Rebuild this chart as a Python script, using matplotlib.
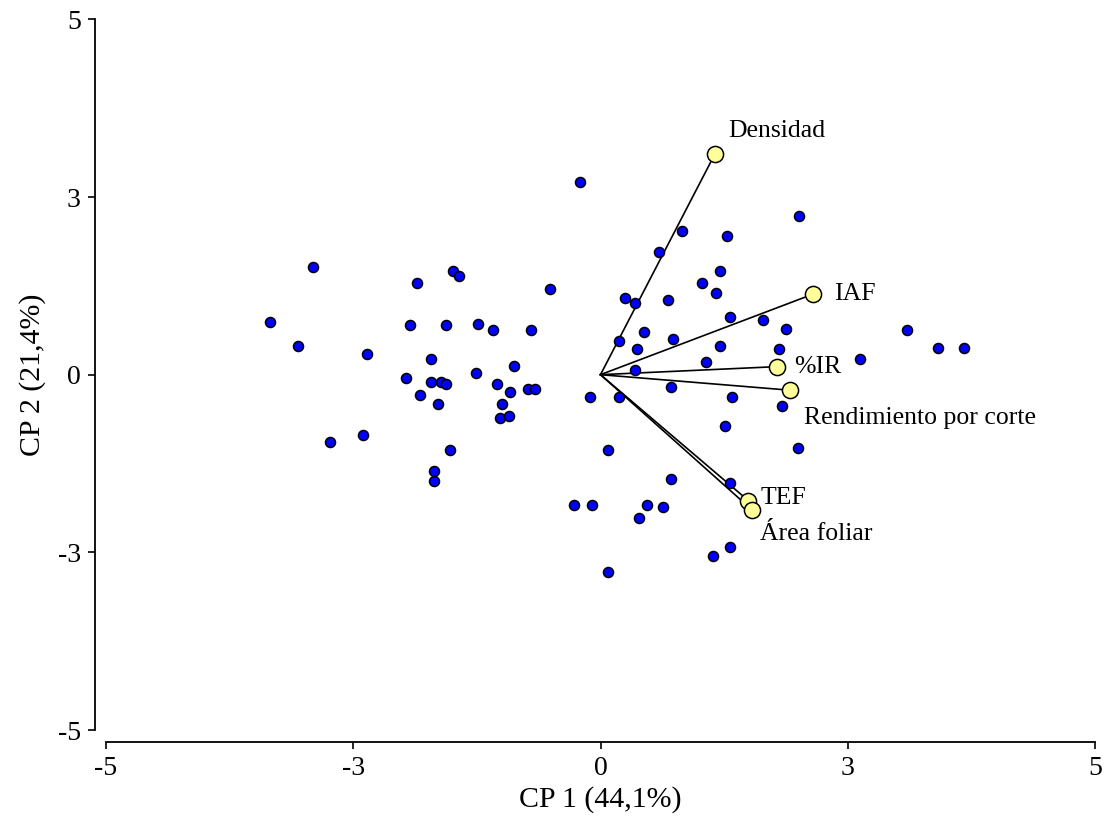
import matplotlib
matplotlib.use("Agg")
import matplotlib.pyplot as plt

# Observation scores (CP1, CP2)
obs_x = [-3.340, -3.060, -2.902, -2.731, -2.397, -2.363, -1.963, -1.922, -1.854, -1.821,
         -1.716, -1.716, -1.645, -1.612, -1.561, -1.561, -1.521, -1.683, -1.683, -1.488,
         -1.433, -1.258, -1.241, -1.083, -1.049, -1.016, -0.995, -0.925, -0.912, -0.874,
         -0.736, -0.662, -0.699, -0.507, -0.210, -0.265, -0.106, -0.086, 0.073, 0.073,
         0.190, 0.190, 0.245, 0.352, 0.352, 0.366, 0.386, 0.440, 0.470, 0.591,
         0.632, 0.679, 0.716, 0.716, 0.736, 0.824, 1.029, 1.063, 1.137, 1.170,
         1.208, 1.208, 1.261, 1.275, 1.312, 1.312, 1.312, 1.329, 1.645, 1.801,
         1.839, 1.875, 1.993, 2.009, 2.626, 3.098, 3.411, 3.676]
obs_y = [0.741, 0.404, 1.511, -0.942, -0.844, 0.287, -0.046, 0.695, 1.294, -0.286,
         0.217, -0.098, -0.408, -0.098, 0.699, -0.127, -1.063, -1.350, -1.495, 1.463,
         1.392, 0.020, 0.717, 0.624, -0.127, -0.605, -0.412, -0.581, -0.243, 0.118,
         -0.197, -0.197, 0.624, 1.201, 2.714, -1.833, -0.318, -1.833, -1.059, -2.771,
         0.478, -0.318, 1.079, 1.008, 0.066, 0.357, -2.020, 0.596, -1.833, 1.730,
         -1.857, 1.055, -0.169, -1.471, 0.502, 2.017, 1.294, 0.172, -2.550, 1.149,
         1.463, 0.408, -0.722, 1.947, 0.816, -1.519, -2.423, -0.314, 0.765, 0.361,
         -0.436, 0.647, -1.035, 2.236, 0.217, 0.624, 0.380, 0.380]

# Variable loadings (vector endpoints)
var_names = ["Densidad", "IAF", "%IR", "Rendimiento por corte", "TEF", "Área foliar"]
var_x = [1.154, 2.151, 1.784, 1.920, 1.494, 1.531]
var_y = [3.100, 1.135, 0.113, -0.219, -1.772, -1.903]

tick_vals = [-5, -2.5, 0, 2.5, 5]
tick_labels = ["-5", "-3", "0", "3", "5"]
xlabel = "CP 1 (44,1%)"
ylabel = "CP 2 (21,4%)"

plt.rcParams['font.family'] = ['Liberation Serif', 'DejaVu Serif']
FS_ANN = 18.5
FS_TICK = 20
FS_LAB = 21.5

fig = plt.figure(figsize=(11.14, 8.23), dpi=100)
ax = fig.add_axes([0.0949, 0.1130, 0.8883, 0.8635])

# label offsets in points (dx, dy, ha, va)
label_off = [(10, 17, 'left', 'center'),
             (15, 0, 'left', 'center'),
             (12, 0, 'left', 'center'),
             (10, -20, 'left', 'center'),
             (9, 2, 'left', 'center'),
             (6, -17, 'left', 'center')]

for vx, vy in zip(var_x, var_y):
    ax.plot([0, vx], [0, vy], color='black', lw=1.2, zorder=2)

ax.scatter(obs_x, obs_y, s=52, color='#0000FF', edgecolors='black', linewidths=1.1, zorder=3)
ax.scatter(var_x, var_y, s=135, color='#FFFF99', edgecolors='black', linewidths=1.1, zorder=4)

for name, vx, vy, (dx, dy, ha, va) in zip(var_names, var_x, var_y, label_off):
    ax.annotate(name, (vx, vy), xytext=(dx, dy), textcoords='offset points',
                ha=ha, va=va, fontsize=FS_ANN, zorder=5)

ax.set_xlim(-5, 5)
ax.set_ylim(-5, 5)
ax.set_xticks(tick_vals)
ax.set_xticklabels(tick_labels)
ax.set_yticks(tick_vals)
ax.set_yticklabels(tick_labels)
ax.tick_params(axis='both', labelsize=FS_TICK, width=1.2, length=5, direction='out', pad=5, colors='black')

for s in ['top', 'right']:
    ax.spines[s].set_visible(False)
ax.spines['left'].set_position(('outward', 8))
ax.spines['bottom'].set_position(('outward', 8.5))
ax.spines['left'].set_linewidth(1.3)
ax.spines['bottom'].set_linewidth(1.3)

ax.set_xlabel(xlabel, fontsize=FS_LAB, labelpad=4)
ax.set_ylabel(ylabel, fontsize=FS_LAB, labelpad=8)

fig.savefig("out.png", dpi=100)
